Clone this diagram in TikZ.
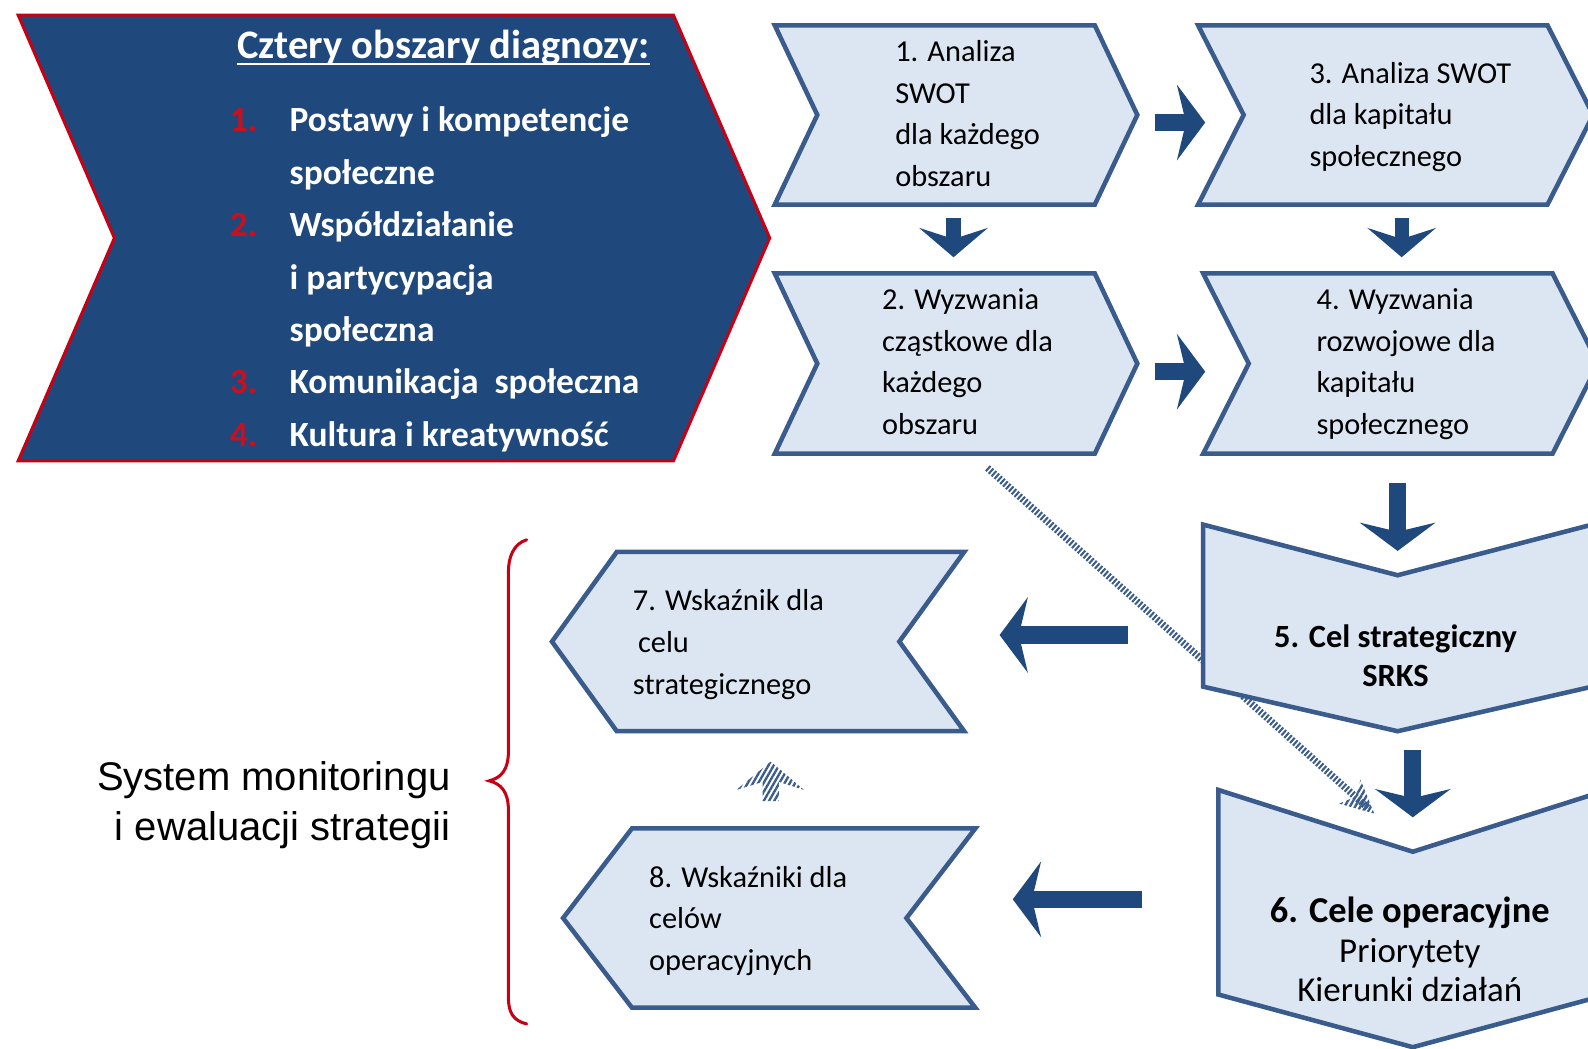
\documentclass[tikz,border=0pt]{standalone}
\usepackage{fontspec}
\setmainfont{Carlito}
\newfontfamily\arialfam{Liberation Sans}
\usetikzlibrary{arrows.meta,calc,patterns.meta}
\definecolor{lightfill}{RGB}{220,230,242}
\definecolor{edgeblue}{RGB}{58,92,140}
\definecolor{darkblue}{RGB}{31,73,125}
\definecolor{numred}{RGB}{200,16,30}
\definecolor{bordred}{RGB}{200,0,20}
\newcommand\mylines[1]{\begin{tabular}[t]{@{}l@{}}#1\end{tabular}}
\newcommand\myclines[1]{\begin{tabular}[t]{@{}c@{}}#1\end{tabular}}
\newcommand\myrlines[1]{\begin{tabular}[t]{@{}r@{}}#1\end{tabular}}
\newcommand\numbox[1]{\makebox[59pt][l]{\textcolor{numred}{#1}}}
\newcommand\chevR[3][chevstyle]{\path[#1] (#2.north west) -- ([xshift=-#3pt]#2.north east) -- (#2.east) -- ([xshift=-#3pt]#2.south east) -- (#2.south west) -- ([xshift=#3pt]#2.west) -- cycle;}
\newcommand\chevL[2]{\path[chevstyle] ([xshift=#2pt]#1.north west) -- (#1.north east) -- ([xshift=-#2pt]#1.east) -- (#1.south east) -- ([xshift=#2pt]#1.south west) -- (#1.west) -- cycle;}
\newcommand\chevD[3]{\path[chevstyle] (#1.north west) -- ([yshift=-#2pt]#1.north) -- (#1.north east) -- ([yshift=#3pt]#1.south east) -- (#1.south) -- ([yshift=#3pt]#1.south west) -- cycle;}
\begin{document}
\begin{tikzpicture}[x=1pt,y=-1pt,
  shapebox/.style={draw=none,inner sep=0pt,outer sep=0pt},
  chevstyle/.style={fill=lightfill,draw=edgeblue,line width=4.5pt,line join=miter},
  bigchev/.style={fill=darkblue,draw=bordred,line width=3pt,line join=miter},
  txt/.style={inner sep=0pt,outer sep=0pt,font=\fontsize{30}{41}\selectfont},
  bigarr/.style={draw=darkblue,line width=17pt,-{Stealth[length=28pt,width=75pt,inset=9pt,line width=0pt]}},
  smallarr/.style={draw=darkblue,line width=14pt,-{Stealth[length=29pt,width=68pt,inset=11pt,line width=0pt]}},
  hatchline/.style={draw=edgeblue,line width=7pt,dash pattern=on 2pt off 1.8pt},
  hatchfill/.style={pattern={Lines[angle=60,distance=4.5pt,line width=2.3pt]},pattern color=edgeblue},
  bracestyle/.style={draw=bordred,line width=3pt,line cap=round}]
\useasboundingbox (0,0) rectangle (1568,1035);
\clip (0,0) rectangle (1568,1035);
\fill[white] (0,0) rectangle (1568,1035);

% shape boxes
\node[shapebox,minimum width=742pt,minimum height=440pt] (s0) at (389,235) {};
\node[shapebox,minimum width=358pt,minimum height=177pt] (s1) at (944,113.5) {};
\node[shapebox,minimum width=358pt,minimum height=178pt] (s2) at (944,359) {};
\node[shapebox,minimum width=390pt,minimum height=177pt] (s3) at (1378,113.5) {};
\node[shapebox,minimum width=390pt,minimum height=178pt] (s4) at (1383,359) {};
\node[shapebox,minimum width=384pt,minimum height=204pt] (s5) at (1380,620) {};
\node[shapebox,minimum width=384pt,minimum height=254pt] (s6) at (1395,907) {};
\node[shapebox,minimum width=407pt,minimum height=177pt] (s7) at (748.5,633.5) {};
\node[shapebox,minimum width=407pt,minimum height=177pt] (s8) at (759.5,906.5) {};

% hatched diagonal connector (behind shapes)
\coordinate (dA) at ($(s2.south)+(31,14)$);
\coordinate (dB) at ($(s6.north west)+(148,18)$);
\draw[hatchline] (dA) -- (dB);

% shapes
\chevR[bigchev]{s0}{95}
\chevR{s1}{42}
\chevR{s2}{42}
\chevR{s3}{45}
\chevR{s4}{45}
\chevD{s5}{50}{44}
\chevD{s6}{61}{52}
\chevL{s7}{64}
\chevL{s8}{68}

% hatched arrow head
\coordinate (dT) at ($(dB)!-8pt!(dA)$);
\path[hatchfill] (dT) -- ($(dT)!36pt!26:(dA)$) -- ($(dT)!25pt!0:(dA)$) -- ($(dT)!36pt!-26:(dA)$) -- cycle;

% texts
\node[inner sep=0pt,outer sep=0pt,anchor=base,text=white,font=\fontsize{40}{46}\selectfont\bfseries] (title) at (438,58) {Cztery obszary diagnozy:};
\draw[white,line width=2.5pt] ([yshift=-5pt]title.base west) -- ([yshift=-5pt]title.base east);
\node[inner sep=0pt,outer sep=0pt,anchor=base west,text=white,font=\fontsize{35}{51.8}\selectfont\bfseries] (list) at (227,130)
  {\mylines{\numbox{1.}Postawy i kompetencje\\\numbox{}społeczne\\\numbox{2.}Współdziałanie\\\numbox{}i partycypacja\\\numbox{}społeczna\\\numbox{3.}Komunikacja\ \ społeczna\\\numbox{4.}Kultura i kreatywność}};

\node[txt,anchor=base west] (t1) at (884,61) {\mylines{1. Analiza\\SWOT\\dla każdego\\obszaru}};
\node[txt,anchor=base west] (t3) at (1293,82) {\mylines{3. Analiza SWOT\\dla kapitału\\społecznego}};
\node[txt,anchor=base west] (t2) at (871,306) {\mylines{2. Wyzwania\\cząstkowe dla\\każdego\\obszaru}};
\node[txt,anchor=base west] (t4) at (1300,306) {\mylines{4. Wyzwania\\rozwojowe dla\\kapitału\\społecznego}};
\node[txt,anchor=base,font=\fontsize{32}{39}\selectfont\bfseries] (t5) at (1378,639) {\myclines{5. Cel strategiczny\\SRKS}};
\node[txt,anchor=base,font=\fontsize{34.5}{39}\selectfont] (t6) at (1392,911) {\myclines{\textbf{\fontsize{36}{39}\selectfont 6. Cele operacyjne}\\Priorytety\\Kierunki działań}};
\node[txt,anchor=base west,font=\fontsize{30}{41.5}\selectfont] (t7) at (625,603) {\mylines{7. Wskaźnik dla\\\hspace{5pt}celu\\strategicznego}};
\node[txt,anchor=base west] (t8) at (641,876) {\mylines{8. Wskaźniki dla\\celów\\operacyjnych}};
\node[txt,anchor=base east,font=\fontsize{39.5}{49}\arialfam] (mon) at (445,781) {\myrlines{System monitoringu\\i ewaluacji strategii}};

% block arrows
\draw[bigarr] ([xshift=17pt,yshift=-7.5pt]s1.east) -- ([xshift=7pt,yshift=-7.5pt]s3.west);
\draw[bigarr] ([xshift=17pt,yshift=-8pt]s2.east) -- ([xshift=2pt,yshift=-8pt]s4.west);
\draw[smallarr] ([xshift=-2.5pt,yshift=-13pt]s1.south) -- ([xshift=-2.5pt,yshift=16pt]s2.north);
\draw[smallarr] ([xshift=6pt,yshift=-13pt]s3.south) -- ([xshift=1pt,yshift=16pt]s4.north);
\draw[bigarr] ([xshift=-3pt,yshift=-29pt]s4.south) -- ([yshift=-26pt]s5.north);
\draw[bigarr] ([xshift=15pt,yshift=-19pt]s5.south) -- ([yshift=-27pt]s6.north);
\draw[bigarr] ([xshift=-74pt,yshift=-7pt]s5.west) -- ([xshift=35pt,yshift=6.5pt]s7.east);
\draw[bigarr] ([xshift=-75pt,yshift=19pt]s6.west) -- ([xshift=37pt,yshift=18.5pt]s8.east);

% hatched up arrow from 8 to 7
\coordinate (um) at ($(s7.south)!0.5!(s8.north)$);
\path[hatchfill] ($(um)+(7,-18)$) -- ($(um)+(40,10)$) -- ($(um)+(15,2)$) -- ($(um)+(15,21)$) -- ($(um)+(-1,21)$) -- ($(um)+(-1,2)$) -- ($(um)+(-27,10)$) -- cycle;

% brace
\draw[bracestyle] (520,533) .. controls (507,537) and (502,550) .. (502,565) -- (502,742) .. controls (502,760) and (495,768) .. (483,771) .. controls (495,774) and (502,782) .. (502,800) -- (502,985) .. controls (502,1000) and (507,1008) .. (520,1011);
\end{tikzpicture}
\end{document}
